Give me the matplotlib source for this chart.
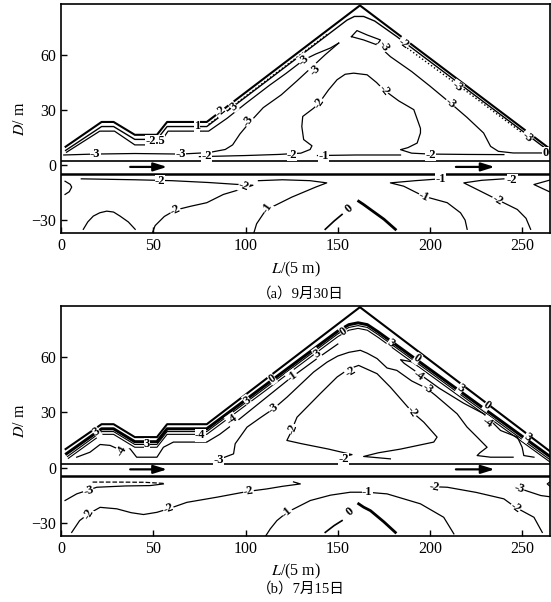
import matplotlib
matplotlib.use("Agg")
import matplotlib.pyplot as plt

plt.rcParams['font.family'] = ['Liberation Serif', 'Noto Sans CJK SC']
plt.rcParams['mathtext.fontset'] = 'stix'

X_TICKS = [0, 50, 100, 150, 200, 250]
Y_TICKS = [-30, 0, 30, 60]
CAPTIONS = ['（a）9月30日', '（b）7月15日']

# embankment surface, L in 5 m units, D in m
SURF_X = [2.5, 22, 28.5, 40, 52, 57.5, 79, 162, 268]
SURF_Y = [10, 23.5, 23.5, 16.5, 16.5, 23.5, 23.5, 87, 6.5]

# pipe (culvert) walls and flow arrows
PIPE_TOP = 2.0
PIPE_BOT = -4.6
ARROW_X = [(36, 59), (212.5, 236.5)]
ARROW_Y = -1.0

# ---- panel (a) 9/30 contour lines ----
A_BAND1 = [(2.5, 8), (22, 21), (28.5, 21), (40, 14), (52, 14), (57.5, 21), (79, 21), (155, 79),
           (159, 81), (164, 81), (170, 78.5), (182, 70), (266, 6.5)]
A_BAND2 = [(3, 7), (21, 18.5), (29, 18.5), (40, 11), (53, 11), (58, 18.5), (80, 18.5), (90, 25.5),
           (100, 33.5), (113, 43.5), (122, 50), (131.5, 57.3), (138, 60.5), (146, 63.8), (150.5, 66.5)]
A_DOT = [(80, 22.2), (120, 52.8), (145, 71.8)]
A_M3_LOW = [(1.5, 5.5), (18, 6), (40, 6.3), (65, 6), (80, 6.8), (89, 8.5), (93, 11), (97, 17), (102, 23),
            (109.6, 31.3), (119.4, 38.3), (128, 46), (135, 52.5), (143, 60), (150.5, 66.5)]
A_M2_DOME = [(75, 4.6), (100, 5.2), (118, 5.8), (130, 6.5), (135, 8.5), (136, 10.5), (131.5, 13.9),
             (130.5, 21), (131, 26.5), (136.9, 31), (140, 34), (145, 41), (149.6, 46.5), (154, 49.5),
             (158.6, 50.1), (165.9, 49.2), (171, 45), (174.9, 41), (183, 35), (191.2, 30.2),
             (194.8, 20), (194.8, 17.5), (193, 12), (188, 9.5), (184, 8.4), (190, 6.5), (200, 6),
             (220, 5.8), (240, 5.7)]
A_M1_BASE = [(139, 5.2), (160, 5.5), (184, 5.5)]
A_M3_RIGHT = [(171, 66), (178.5, 59.1), (190, 51), (200, 43), (211, 33.8), (220, 26), (229, 17.5),
              (232.8, 10.2), (237, 7.5), (245, 6.6), (265, 6.6)]
A_PEAK_LOOP = [(157.4, 70), (160.4, 73.3), (165.9, 70.9), (173.1, 68.2), (171.3, 65.5), (164, 68.2),
               (157.4, 70)]
A_RDOT = [(186, 65), (220, 40), (250, 17.5)]
A_M2_BELOW = [(11, -7.5), (40, -8), (60, -8.5), (80, -9.5), (95, -10.5), (104, -11), (98, -13),
              (88, -16), (79, -20.5), (70, -22.5), (62, -24.5), (56, -28), (51, -33), (49.5, -37)]
A_M1_BELOW = [(107, -8.5), (120, -8), (135, -8.5), (144, -9.7), (138, -12), (125, -17.5),
              (115, -22.5), (110, -26), (106, -32), (104.5, -37)]
A_LEFT_ARC = [(2.2, -8.8), (5, -10.5), (5.8, -12), (4.5, -14.5), (2.2, -16)]
A_LOW_ARC = [(12.1, -35), (14.5, -31), (17.5, -27.8), (21, -26), (24.8, -25.1), (28.5, -25.6),
             (32, -27.8), (36.5, -31), (40.2, -35)]
A_ZERO_L = [(143.2, -35), (148, -30.5), (152.3, -26.9)]
A_ZERO_R = [(161.3, -19.7), (164, -21.5), (167.7, -24.2), (175, -29.5), (181.2, -35)]
A_M1_R = [(205.6, -7.5), (192, -8.5), (178.5, -9.7), (185.7, -11.5), (196.6, -17), (209.3, -20.5),
          (216.5, -26), (219, -30), (220.1, -35)]
A_M2_R = [(240, -7.5), (228, -8.3), (218.3, -9.7), (225.5, -13.3), (236.4, -18.8), (247.3, -24.2),
          (252, -29), (254.5, -35)]
A_EDGE = [(265.9, -7.9), (256.3, -10.6), (265.9, -15.1)]

A_LABELS = [('-3', 18.5, 6, 0), ('-3', 64.7, 6.2, 0), ('-2', 79, 4.8, 0), ('-3', 101.6, 23.8, 55),
            ('-3', 131.5, 57.3, 40), ('-3', 137.8, 51.9, 45), ('-2', 140, 33.8, 55),
            ('-2', 174.9, 41, -50), ('-2', 125.2, 5.7, 0), ('-1', 142.3, 4.8, 0), ('-2', 200.2, 5.7, 0),
            ('-3', 211, 33.8, -40), ('-3', 214.7, 42.8, -35), ('-3', 175, 64.6, -60),
            ('-2', 185.7, 66.4, -35), ('-3', 252.7, 15.5, -40), ('0', 262.5, 6.5, 0),
            ('-2.5', 51, 13, 0), ('1', 73.6, 21.5, 0), ('-2', 86.3, 29.2, 40), ('3', 93.5, 32, 40),
            ('-2', 53.7, -8.8, 0), ('-2', 99, -11.5, -20), ('-2', 61.9, -24.7, 25),
            ('-1', 111.6, -23.3, 55), ('0', 155.9, -23.8, 40), ('-1', 205.6, -7.5, 0),
            ('-1', 196.6, -17, -25), ('-2', 244.5, -8.3, 0), ('-2', 236.4, -18.8, -30)]

# ---- panel (b) 7/15 contour lines ----
B_BAND1 = [(3, 7.5), (22, 21), (28.5, 21), (40, 14), (52, 14), (57.5, 21), (79, 21), (150, 74),
           (156, 77.5), (161, 78.5), (166, 77.5), (172, 73.5), (267, 4.5)]
B_BAND2 = [(3.5, 6), (22, 19.5), (28.5, 19.5), (40, 12.5), (52, 12.5), (57.5, 19.5), (79, 19.5),
           (150, 72.5), (156, 76), (161, 77), (166, 76), (172, 72), (266, 3.5)]
B_BAND3 = [(4, 5), (22, 18), (28.5, 18), (40, 11), (52, 11), (57.5, 18), (79, 18), (150, 71),
           (156, 74.5), (161, 75.5), (166, 74.5), (172, 70.5), (265, 3)]
B_M4_LEFT = [(8.5, 5.6), (15.7, 8.3), (21.2, 12.5), (26.6, 12), (32.9, 9.2), (37.4, 10.2), (41, 5.6),
             (52, 5.6), (55.5, 11), (60.9, 13.8), (79, 13.8), (86, 18), (93.5, 23.7), (110, 37),
             (124.3, 48.5), (140, 60), (150, 67)]
B_M4_RIGHT = [(192, 57), (184, 58.5), (186, 56.5), (193.9, 51), (205, 43), (218, 35), (229.2, 29.1),
              (238.2, 20.1), (247.3, 16.5), (249.9, 11), (250.8, 6.5), (256.3, 5.6)]
B_M3 = [(85, 4.2), (93.5, 7.4), (94.4, 12.9), (100.8, 21.9), (108, 27), (115.2, 31.9), (122.5, 38.2),
        (136.9, 51.8), (144.2, 57.2), (150, 60.5), (156, 62.5), (162.2, 63.6), (166, 62), (171.3, 59.1),
        (176.7, 54), (182, 52.7), (190, 47), (198.4, 42.8), (203, 39.1), (214.7, 29.1), (220, 22),
        (225.5, 16.5), (230.9, 11), (227, 8), (225.5, 6.5), (232.8, 5.6), (245, 5.6)]
B_M2_DOME = [(178.5, 4.7), (164, 6), (172, 8), (184, 10), (202, 13.8), (203.8, 16.5), (196.6, 24.6),
             (190.3, 30.1), (178.5, 43.6), (171.3, 50.9), (161.3, 55.4), (156, 53.5), (149.6, 49.1),
             (140.5, 40.1), (127.9, 27.3), (124.2, 18.3), (122.4, 14.7), (130, 13), (145, 10),
             (157.7, 7), (153, 5.8)]
B_M3_BELOW = [(2.2, -17.9), (8.5, -14.3), (19.4, -10.7), (35, -10), (48.3, -9.8), (55.5, -8.9)]
B_M3_DASH = [(55.5, -8.6), (45, -8), (30, -7.9), (17, -7.9)]
B_M2_BELOW = [(5.8, -35.2), (10.1, -28.8), (14.8, -25.2), (21.2, -21.6), (30.2, -22.4), (38, -24.5),
              (44.7, -25.5), (52, -24.3), (58.2, -22.4), (68.2, -18.9), (84.5, -16.1), (101.6, -12.9),
              (111.6, -11.6), (120, -10.2), (129.7, -8.9), (126, -7.8)]
B_M1_BELOW = [(111, -37), (113.4, -33.3), (117, -28.8), (122.5, -24.3), (135.1, -17.9), (146, -15),
              (156.8, -13.4), (165.9, -13.4), (176.7, -14.3), (194.8, -19.7), (207.4, -27),
              (212.9, -36)]
B_ZERO_L = [(143.2, -35.2), (148, -31.5), (152.3, -28.8)]
B_ZERO_R = [(161.3, -19.7), (164, -21.5), (167.7, -23.4), (175, -29.5), (181.2, -35.2)]
B_M2_R = [(200, -9.5), (204, -10.5), (209.3, -10.7), (225, -13.5), (240, -17), (246.3, -21.6),
          (256.3, -27), (260.8, -35.2)]
B_M3_R = [(246, -10.5), (252.7, -12.8), (260, -15.2), (266, -16)]
B_EDGE = [(266, -7), (263.5, -8.9), (266, -11)]

B_LABELS = [('-4', 32.9, 9.2, 60), ('-4', 75.4, 17.4, 0), ('-3', 85.3, 4.2, 0), ('-4', 92.5, 26, 35),
            ('-3', 115.2, 32, 35), ('-2', 125.2, 21, 70), ('-2', 156.8, 51.8, 30), ('-2', 190.3, 30.1, -55),
            ('-2', 153.2, 4.7, 0), ('-4', 193.9, 50, -35), ('-3', 198.4, 42.8, -35), ('-4', 231, 24.6, -35),
            ('0', 114.3, 48.2, 35), ('0', 153.2, 73.5, 35), ('0', 193, 59.1, -35), ('0', 231, 33.7, -35),
            ('-1', 125.2, 49.5, 35), ('3', 138.7, 61.8, 35), ('3', 178.5, 67.2, -35), ('3', 216.5, 42.8, -35),
            ('3', 252.7, 16.5, -35), ('3', 19.4, 19.2, 35), ('3', 46.5, 12.9, 0), ('3', 100.8, 36.4, 35),
            ('-3', 14.8, -12.5, 15), ('-2', 14.8, -25.2, 60), ('-2', 58.2, -22.4, 20),
            ('-2', 101.6, -12.9, 10), ('-1', 122.5, -24.3, 40), ('-1', 165.9, -13.4, 0),
            ('0', 156.4, -23.7, 40), ('-2', 202, -10.7, -10), ('-2', 246.3, -21.6, -35),
            ('-3', 248.2, -11.6, -15)]


def line(ax, pts, lw=0.9, ls='-'):
	xs = [p[0] for p in pts]
	ys = [p[1] for p in pts]
	ax.plot(xs, ys, color='k', lw=lw, ls=ls, solid_joinstyle='round', zorder=3)


def draw_panel(ax, lines, labels, caption, xlab_y, cap_y):
	ax.plot(SURF_X, SURF_Y, color='k', lw=1.5, zorder=4)
	for pts, lw, ls in lines:
		line(ax, pts, lw, ls)
	ax.axhline(PIPE_TOP, color='k', lw=1.2, zorder=4)
	ax.axhline(PIPE_BOT, color='k', lw=1.8, zorder=4)
	for x0, x1 in ARROW_X:
		ax.annotate('', xy=(x1, ARROW_Y), xytext=(x0, ARROW_Y),
		            arrowprops=dict(arrowstyle='-|>,head_length=0.8,head_width=0.25', color='k', lw=1.6))
	for t, x, y, r in labels:
		ax.text(x, y, t, rotation=r, ha='center', va='center', fontsize=9, fontweight='bold',
		        bbox=dict(fc='white', ec='none', pad=0.05), zorder=5)
	ax.set_xlim(0, 265)
	ax.set_ylim(-37, 87.8)
	ax.set_xticks(X_TICKS)
	ax.set_yticks(Y_TICKS)
	ax.tick_params(direction='in', length=4, width=1, labelsize=11.5, top=False, right=False)
	for s in ax.spines.values():
		s.set_linewidth(1.2)
	ax.set_ylabel('$D$/ m', fontsize=11.5, labelpad=2)
	ax.text(0.48, xlab_y, '$L$/(5 m)', transform=ax.transAxes, ha='center', va='center', fontsize=11.5)
	ax.text(0.49, cap_y, caption, transform=ax.transAxes, ha='center', va='center', fontsize=10.5,
	        family=['Liberation Serif', 'Noto Sans CJK SC'])


fig = plt.figure(figsize=(5.51, 6.02), dpi=100)
ax_a = fig.add_axes([0.1107, 0.6130, 0.8875, 0.3804])
ax_b = fig.add_axes([0.1107, 0.1101, 0.8875, 0.3821])

lines_a = [(A_BAND1, 1.0, '-'), (A_BAND2, 0.9, '-'), (A_DOT, 1.0, ':'), (A_M3_LOW, 0.9, '-'),
           (A_M2_DOME, 0.9, '-'), (A_M1_BASE, 0.9, '-'), (A_M3_RIGHT, 0.9, '-'), (A_PEAK_LOOP, 0.9, '-'),
           (A_RDOT, 1.0, ':'), (A_M2_BELOW, 0.9, '-'), (A_M1_BELOW, 0.9, '-'), (A_LEFT_ARC, 0.9, '-'),
           (A_LOW_ARC, 0.9, '-'), (A_ZERO_L, 1.2, '-'), (A_ZERO_R, 2.0, '-'), (A_M1_R, 0.9, '-'),
           (A_M2_R, 0.9, '-'), (A_EDGE, 0.9, '-')]
lines_b = [(B_BAND1, 2.2, '-'), (B_BAND2, 0.8, '-'), (B_BAND3, 0.8, '-'), (B_M4_LEFT, 0.9, '-'),
           (B_M4_RIGHT, 0.9, '-'), (B_M3, 0.9, '-'), (B_M2_DOME, 0.9, '-'), (B_M3_BELOW, 0.9, '-'),
           (B_M3_DASH, 0.9, '--'), (B_M2_BELOW, 0.9, '-'), (B_M1_BELOW, 0.9, '-'), (B_ZERO_L, 1.2, '-'),
           (B_ZERO_R, 2.0, '-'), (B_M2_R, 0.9, '-'), (B_M3_R, 0.9, '-'), (B_EDGE, 0.9, '-')]

draw_panel(ax_a, lines_a, A_LABELS, CAPTIONS[0], -0.16, -0.265)
draw_panel(ax_b, lines_b, B_LABELS, CAPTIONS[1], -0.155, -0.23)

fig.savefig('out.png', dpi=100)
